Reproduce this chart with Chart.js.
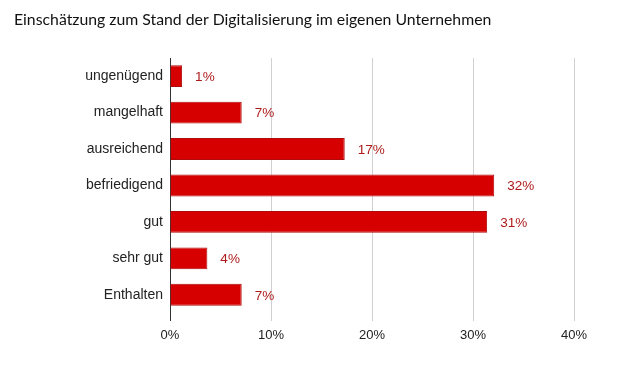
<!DOCTYPE html>
<html><head><meta charset="utf-8">
<script src="https://cdn.jsdelivr.net/npm/chart.js@4/dist/chart.umd.min.js"></script>
<style>html,body{margin:0;padding:0;background:#fff}#w{width:621px;height:371px}</style>
</head><body><div id="w"><canvas id="c" width="621" height="371"></canvas></div>
<script>
const titleText = 'Einschätzung zum Stand der Digitalisierung im eigenen Unternehmen';
const categories = ['ungenügend','mangelhaft','ausreichend','befriedigend','gut','sehr gut','Enthalten'];
const values = [1.2, 7.1, 17.3, 32.1, 31.4, 3.7, 7.1];
const valueLabels = ['1%','7%','17%','32%','31%','4%','7%'];
const xTicks = [0, 10, 20, 30, 40];

const labelPlugin = {
  id: 'valueLabels',
  afterDatasetsDraw(chart) {
    const ctx = chart.ctx;
    const meta = chart.getDatasetMeta(0);
    ctx.save();
    ctx.font = '13.5px "Liberation Sans", Arial, sans-serif';
    ctx.fillStyle = '#ad1a1a';
    ctx.textAlign = 'left';
    ctx.textBaseline = 'middle';
    meta.data.forEach((bar, i) => {
      ctx.fillText(valueLabels[i], bar.x + 13, bar.y + 1);
    });
    ctx.restore();
  }
};

new Chart(document.getElementById('c'), {
  type: 'bar',
  data: {
    labels: categories,
    datasets: [{
      data: values,
      backgroundColor: '#d60000',
      borderColor: '#b00a0a',
      borderWidth: 1,
      borderSkipped: 'start',
      barPercentage: 0.6,
      categoryPercentage: 1.0
    }]
  },
  options: {
    indexAxis: 'y',
    responsive: false,
    animation: false,
    devicePixelRatio: 1,
    layout: { padding: { left: 14, right: 47, top: 0, bottom: 0 } },
    plugins: {
      legend: { display: false },
      tooltip: { enabled: false },
      title: {
        display: true,
        text: titleText,
        align: 'start',
        color: '#111',
        font: { family: 'Lato, "Open Sans", sans-serif', size: 15.8, weight: 'normal' },
        padding: { top: 10, bottom: 29 }
      }
    },
    scales: {
      x: {
        min: 0, max: 40,
        afterBuildTicks(scale) { scale.ticks = xTicks.map(v => ({ value: v })); },
        afterFit(scale) { scale.height = 58; },
        border: { display: false },
        grid: {
          color: ctx => ctx.index === 0 ? '#333' : '#d0d0d0',
          lineWidth: 1,
          tickLength: 8,
          drawTicks: true
        },
        ticks: {
          padding: 7,
          color: '#222',
          font: { family: '"Liberation Sans", Arial, sans-serif', size: 13 },
          callback: v => v + '%'
        }
      },
      y: {
        afterFit(scale) { scale.width = 156; },
        border: { display: false },
        grid: { display: false, drawTicks: false, tickLength: 0 },
        ticks: {
          padding: 7,
          color: '#222',
          font: { family: '"Liberation Sans", Arial, sans-serif', size: 14 }
        }
      }
    }
  },
  plugins: [labelPlugin]
});
</script>
</body></html>
